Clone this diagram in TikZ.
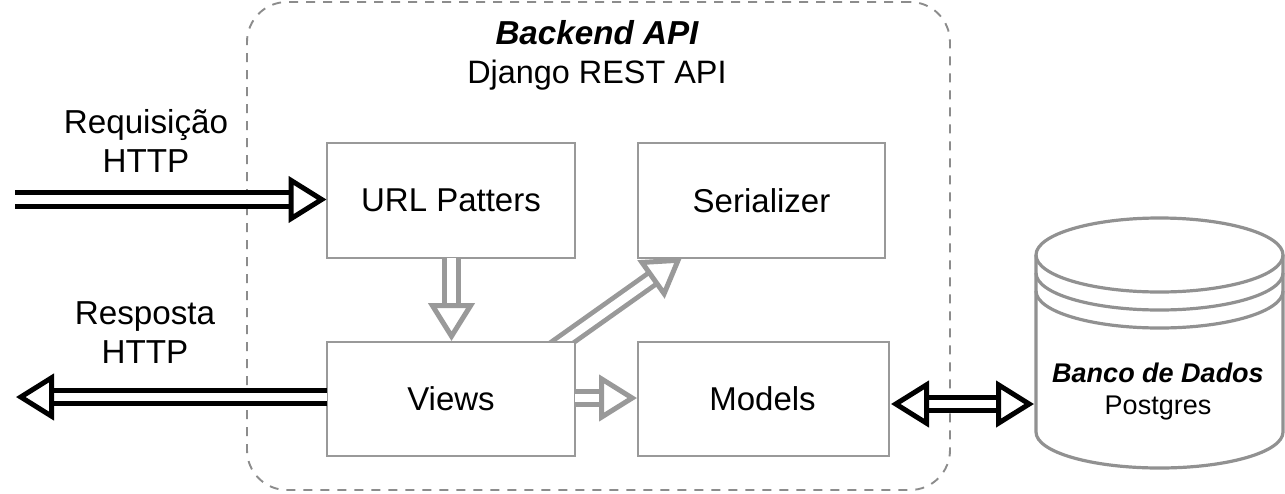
\documentclass[tikz,border=0pt]{standalone}
\usepackage{fontspec}
\setmainfont{Liberation Sans}
\usetikzlibrary{arrows.meta}
\definecolor{linegray}{HTML}{999999}
\definecolor{dashgray}{HTML}{8C8C8C}
\definecolor{cylgray}{HTML}{919191}
\pgfdeclarelayer{back}
\pgfdeclarelayer{mid}
\pgfsetlayers{back,mid,main}
\tikzset{
  box/.style={draw=linegray,line width=2.4pt,fill=white,inner sep=0pt,font=\fontsize{33}{39}\selectfont,text=black},
  caption/.style={align=center,inner sep=0pt,font=\fontsize{33.2}{39}\selectfont,text=black},
  shaftline/.style={line width=4.8pt,double=white,double distance=8.6pt},
  cylline/.style={draw=cylgray,line width=3.2pt}
}
% colour, start, end : hollow double arrow
\newcommand{\hollowarrow}[3]{%
  \draw[shaftline,color=#1,shorten >=33pt] (#2) -- (#3);
  \draw[line width=0.2pt,white,-{Triangle[length=38pt,width=46pt,line width=5pt,fill=white,color=#1]}] (#2) -- (#3);
}
\begin{document}
\begin{tikzpicture}[x=1pt,y=-1pt]
\begin{pgfonlayer}{back}
\useasboundingbox[fill=white] (0,0) rectangle (1285,493);
% container
\node[draw=dashgray,line width=1.9pt,dash pattern=on 9pt off 8pt,rounded corners=40pt,minimum width=703pt,minimum height=488pt,inner sep=0pt] (backend) at (598.5,246) {};
\end{pgfonlayer}

% boxes
\node[box,minimum width=248pt,minimum height=115pt] (url) at (451,200.5) {URL Patters};
\node[box,minimum width=247pt,minimum height=115pt] (serializer) at (761.5,200.5) {Serializer};
\node[box,minimum width=248pt,minimum height=114pt] (views) at (451,399) {Views};
\node[box,minimum width=251pt,minimum height=114pt] (models) at (763.5,399) {};
\node[font=\fontsize{33}{39}\selectfont,inner sep=0pt] (modelstext) at (762.5,399) {Models};

% titles
\node[caption] (apititle) at (597,55.5) {{\bfseries\itshape Backend API}\\{\fontsize{32.4}{39}\selectfont Django REST API}};
\node[caption] (reqlabel) at (146,141) {Requisição\\HTTP};
\node[caption] (resplabel) at (145,333) {Resposta\\HTTP};

% database
\node[inner sep=0pt,minimum width=247pt,minimum height=250pt] (db) at (1159.5,343) {};
\draw[cylline,fill=white] (1036,255)
  .. controls (1036,234.6) and (1091.4,218) .. (1159.5,218)
  .. controls (1227.6,218) and (1283,234.6) .. (1283,255)
  -- (1283,432)
  .. controls (1283,452) and (1227.6,468) .. (1159.5,468)
  .. controls (1091.4,468) and (1036,452) .. (1036,432)
  -- cycle;
\draw[cylline] (1036,255)
  .. controls (1036,275.4) and (1091.4,292) .. (1159.5,292)
  .. controls (1227.6,292) and (1283,275.4) .. (1283,255);
\draw[cylline] (1036,273)
  .. controls (1036,293.4) and (1091.4,310) .. (1159.5,310)
  .. controls (1227.6,310) and (1283,293.4) .. (1283,273);
\draw[cylline] (1036,291)
  .. controls (1036,311.4) and (1091.4,328) .. (1159.5,328)
  .. controls (1227.6,328) and (1283,311.4) .. (1283,291);
\node[align=center,inner sep=0pt,font=\fontsize{27}{32}\selectfont] (dbtext) at (1158,391.5) {{\bfseries\itshape Banco de Dados}\\Postgres};

% connector ends
\coordinate (reqstart) at (15,199.5);
\coordinate (urlport) at (326.5,199.5);
\coordinate (viewsport) at (327,397);
\coordinate (respend) at (16,397);
\coordinate (urlbottom) at (451.5,258);
\coordinate (viewstop) at (451.5,341);
\coordinate (diagstart) at (553,349);
\coordinate (serialport) at (682,257.5);
\coordinate (viewsright) at (575,398);
\coordinate (modelsleft) at (637,398);
\coordinate (modelsport) at (891,404);
\coordinate (dbport) at (1034,404);
\coordinate (midlink) at (962,404);

% connectors
\hollowarrow{black}{reqstart}{urlport}
\hollowarrow{black}{viewsport}{respend}
\hollowarrow{linegray}{urlbottom}{viewstop}
\begin{pgfonlayer}{mid}
\hollowarrow{linegray}{diagstart}{serialport}
\end{pgfonlayer}
\hollowarrow{linegray}{viewsright}{modelsleft}
\hollowarrow{black}{midlink}{modelsport}
\hollowarrow{black}{midlink}{dbport}
\end{tikzpicture}
\end{document}
